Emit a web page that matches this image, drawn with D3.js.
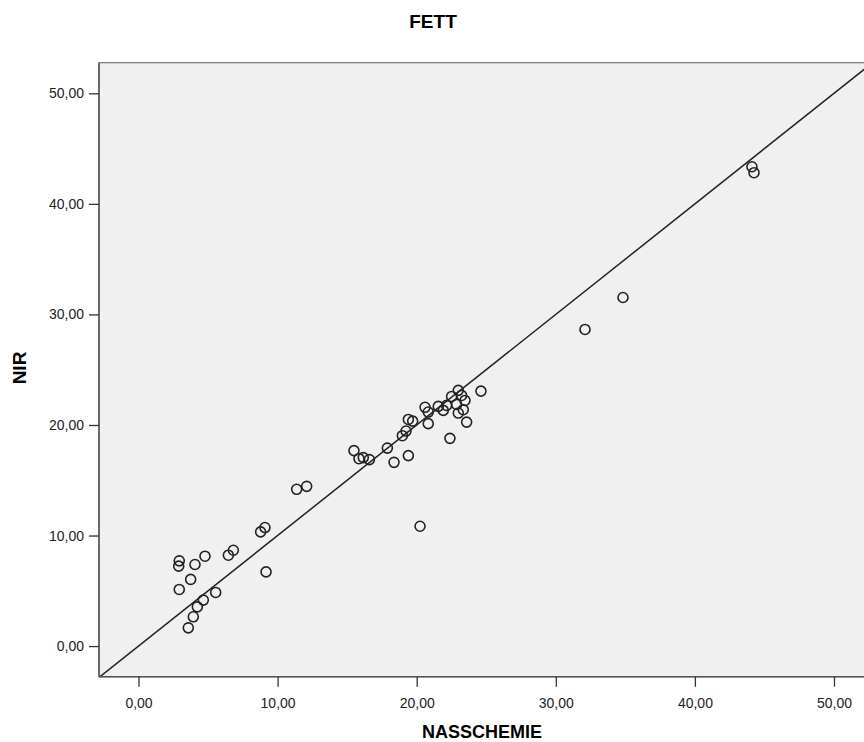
<!DOCTYPE html>
<html>
<head lang="de">
    <meta charset="UTF-8">
    <title>FETT</title>
    <style>
        body { margin: 0; background: #fff; }
        text { font-family: "Liberation Sans", Arial, sans-serif; }
    </style>
</head>
<body>
<svg width="864" height="742"></svg>
<script src="https://cdn.jsdelivr.net/npm/d3@7"></script>
<script>
    // NASSCHEMIE (x) und NIR (y)
    var nasschemie = [2.93, 2.89, 4.06, 4.78, 3.75, 2.93, 5.55, 4.66, 4.23, 3.94, 3.58, 6.46, 6.82, 8.78, 9.09, 9.17,
        11.37, 12.09, 15.49, 15.85, 16.16, 16.6, 17.89, 18.37, 19.4, 18.97, 19.23, 19.4, 19.71,
        20.6, 20.83, 20.83, 21.55, 21.91, 22.15, 22.51, 22.99, 23.23, 22.87, 23.47, 22.99, 23.35, 23.59, 24.62, 22.39,
        20.24, 32.1, 34.83, 44.1, 44.25];
    var nir = [7.71, 7.23, 7.38, 8.13, 6.03, 5.12, 4.85, 4.16, 3.55, 2.65, 1.65, 8.22, 8.67, 10.33, 10.72, 6.71,
        14.18, 14.45, 17.68, 16.95, 17.05, 16.87, 17.91, 16.62, 17.23, 19.03, 19.45, 20.5, 20.35,
        21.6, 21.17, 20.12, 21.68, 21.32, 21.77, 22.58, 23.13, 22.67, 21.86, 22.22, 21.08, 21.38, 20.26, 23.06, 18.79,
        10.84, 28.64, 31.53, 43.36, 42.82];
    var ticks = [0, 10, 20, 30, 40, 50];
    var xDomain = [-2.84, 52.84];
    var yDomain = [-2.77, 52.77];

    var svg = d3.select("svg"),
            MARGINS = {top: 62.7, bottom: 676.7, left: 99, right: 873.5};

    var xScale = d3.scaleLinear().domain(xDomain).range([MARGINS.left, MARGINS.right]);
    var yScale = d3.scaleLinear().domain(yDomain).range([MARGINS.bottom, MARGINS.top]);
    var fmt = function (d) { return d3.format(".2f")(d).replace(".", ","); };

    svg.append("defs").append("clipPath").attr("id", "plot")
            .append("rect")
            .attr("x", MARGINS.left).attr("y", MARGINS.top)
            .attr("width", MARGINS.right - MARGINS.left)
            .attr("height", MARGINS.bottom - MARGINS.top);

    svg.append("rect")
            .attr("x", MARGINS.left).attr("y", MARGINS.top)
            .attr("width", MARGINS.right - MARGINS.left)
            .attr("height", MARGINS.bottom - MARGINS.top)
            .attr("fill", "#f0f0f0")
            .attr("stroke", "#777")
            .attr("stroke-width", 1.2);

    // Referenzlinie y = x
    var lineGen = d3.line()
            .x(function (d) { return xScale(d); })
            .y(function (d) { return yScale(d); });
    svg.append("path")
            .attr("clip-path", "url(#plot)")
            .attr("d", lineGen(xDomain))
            .attr("stroke", "#222")
            .attr("stroke-width", 1.5)
            .attr("fill", "none");

    var xAxis = d3.axisBottom(xScale).tickValues(ticks).tickFormat(fmt).tickSize(10).tickPadding(11);
    var yAxis = d3.axisLeft(yScale).tickValues(ticks).tickFormat(fmt).tickSize(10).tickPadding(5);

    var gx = svg.append("g")
            .attr("transform", "translate(0," + MARGINS.bottom + ")")
            .call(xAxis);
    var gy = svg.append("g")
            .attr("transform", "translate(" + MARGINS.left + ",0)")
            .call(yAxis);
    [gx, gy].forEach(function (g) {
        g.select(".domain").attr("stroke", "#555").attr("stroke-width", 1.5);
        g.selectAll(".tick line").attr("stroke", "#333").attr("stroke-width", 1.3);
        g.selectAll(".tick text").attr("fill", "#222").style("font-size", "14px")
                .style("font-family", "'Liberation Sans', Arial, sans-serif");
    });
    gx.select(".domain").attr("d", "M" + MARGINS.left + ",0H" + MARGINS.right);
    gy.select(".domain").attr("d", "M0," + MARGINS.bottom + "V" + MARGINS.top);

    svg.append("g").attr("clip-path", "url(#plot)")
            .selectAll("circle")
            .data(nasschemie)
            .enter().append("circle")
            .attr("cx", function (d) { return xScale(d); })
            .attr("cy", function (d, i) { return yScale(nir[i]); })
            .attr("r", 5)
            .attr("fill", "none")
            .attr("stroke", "#222")
            .attr("stroke-width", 1.6);

    svg.append("text")
            .attr("x", 433).attr("y", 28)
            .attr("text-anchor", "middle")
            .style("font-size", "19px").style("font-weight", "bold")
            .text("FETT");

    svg.append("text")
            .attr("x", 482).attr("y", 738)
            .attr("text-anchor", "middle")
            .style("font-size", "18px").style("font-weight", "bold")
            .text("NASSCHEMIE");

    svg.append("text")
            .attr("transform", "translate(26,368) rotate(-90)")
            .attr("text-anchor", "middle")
            .style("font-size", "19px").style("font-weight", "bold")
            .text("NIR");
</script>
</body>
</html>
